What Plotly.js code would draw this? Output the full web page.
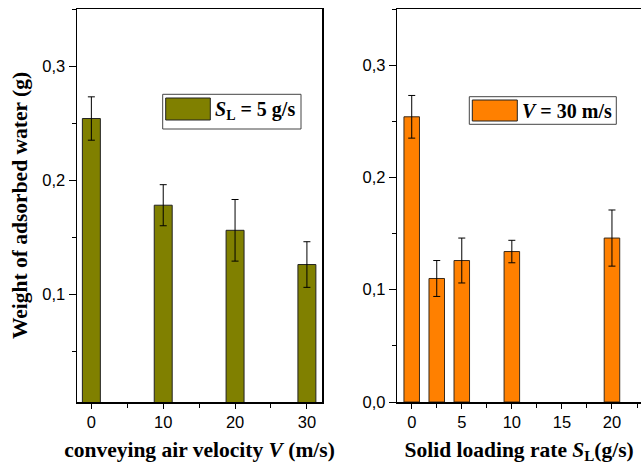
<!DOCTYPE html>
<html><head><meta charset="utf-8">
<script src="https://cdn.plot.ly/plotly-3.0.1.min.js"></script>
<style>html,body{margin:0;padding:0;background:#fff}#chart{width:641px;height:472px}</style>
</head><body><div id="chart"></div>
<script>
// Left panel: air velocity (S_L = 5 g/s)
const velocity = [0, 10, 20, 30];
const weightVel = [0.254, 0.178, 0.156, 0.126];
const errVel = [0.019, 0.018, 0.027, 0.020];
// Right panel: solid loading rate (V = 30 m/s)
const loading = [0, 2.5, 5, 10, 20];
const weightLoad = [0.254, 0.110, 0.126, 0.134, 0.146];
const errLoad = [0.019, 0.016, 0.020, 0.010, 0.025];
const leftTicks = [0, 10, 20, 30];
const rightTicks = [0, 5, 10, 15, 20];

const W = 641, H = 472;
const px = x => x / W, py = y => 1 - y / H;
const tickFont = {family: '"Liberation Sans", Arial, sans-serif', size: 16.5, color: '#000'};
const titleFont = {family: '"Liberation Serif", "Times New Roman", serif', size: 21.5, color: '#000', weight: 'bold'};
const legFont = {family: '"Liberation Serif", "Times New Roman", serif', size: 20, color: '#000'};

const traces = [
  {type: 'bar', x: velocity, y: weightVel, width: 2.5, xaxis: 'x', yaxis: 'y',
   marker: {color: '#808000', line: {color: '#222', width: 1}},
   error_y: {type: 'data', array: errVel, visible: true, color: '#000', thickness: 1, width: 3.5},
   showlegend: false},
  {type: 'bar', x: loading, y: weightLoad, width: 1.55, xaxis: 'x2', yaxis: 'y2',
   marker: {color: '#FF8000', line: {color: '#3a2a1a', width: 1}},
   error_y: {type: 'data', array: errLoad, visible: true, color: '#000', thickness: 1, width: 3.5},
   showlegend: false}
];

const axBase = {showline: true, linecolor: '#000', linewidth: 1.5, ticks: 'outside', tickcolor: '#000',
  tickwidth: 1, showgrid: false, zeroline: false, tickfont: tickFont, automargin: false};

const layout = {
  width: W, height: H, margin: {l: 0, r: 0, t: 0, b: 0},
  paper_bgcolor: '#fff', plot_bgcolor: '#fff', separators: ',.', showlegend: false,
  bargap: 0,
  xaxis: Object.assign({}, axBase, {domain: [px(77), px(322)], range: [-2, 32.1], anchor: 'y',
    tickvals: leftTicks, ticktext: leftTicks.map(String), ticklen: 5, mirror: true,
    minor: {tickvals: [5, 15, 25], ticks: 'outside', ticklen: 4, tickcolor: '#000'},
    title: {text: 'conveying air velocity <i>V</i> (m/s)', font: titleFont, standoff: 11}}),
  yaxis: Object.assign({}, axBase, {domain: [py(402), py(9)], range: [0.0055, 0.35], anchor: 'x',
    tick0: 0, dtick: 0.1, tickformat: '.1f', ticklen: 7, mirror: true,
    minor: {dtick: 0.05, tick0: 0, ticks: 'outside', ticklen: 4, tickcolor: '#000'},
    title: {text: 'Weight of adsorbed water (g)', font: titleFont, standoff: 8}}),
  xaxis2: Object.assign({}, axBase, {domain: [px(397.3), 1], range: [-1.44, 22.9], anchor: 'y2',
    tickvals: rightTicks, ticktext: rightTicks.map(String), ticklen: 5, mirror: true,
    minor: {tickvals: [2.5, 7.5, 12.5, 17.5, 22.5], ticks: 'outside', ticklen: 4, tickcolor: '#000'},
    title: {text: 'Solid loading rate <i>S</i><sub>L</sub>(g/s)', font: titleFont, standoff: 11}}),
  yaxis2: Object.assign({}, axBase, {domain: [py(402), py(9)], range: [0, 0.35], anchor: 'x2',
    tick0: 0, dtick: 0.1, tickformat: '.1f', ticklen: 7, mirror: false,
    minor: {dtick: 0.05, tick0: 0, ticks: 'outside', ticklen: 4, tickcolor: '#000'}}),
  shapes: [
    {type: 'rect', xref: 'paper', yref: 'paper', x0: px(162.7), x1: px(301), y0: py(129), y1: py(94.3),
     line: {color: '#444', width: 1}, fillcolor: '#fff'},
    {type: 'rect', xref: 'paper', yref: 'paper', x0: px(165.7), x1: px(210.3), y0: py(120), y1: py(98),
     line: {color: '#222', width: 1}, fillcolor: '#808000'},
    {type: 'rect', xref: 'paper', yref: 'paper', x0: px(469.3), x1: px(616.3), y0: py(124.3), y1: py(96.7),
     line: {color: '#444', width: 1}, fillcolor: '#fff'},
    {type: 'rect', xref: 'paper', yref: 'paper', x0: px(472.3), x1: px(517.3), y0: py(121), y1: py(100),
     line: {color: '#222', width: 1}, fillcolor: '#FF8000'}
  ],
  annotations: [
    {xref: 'paper', yref: 'paper', x: px(213), y: py(110), xanchor: 'left', yanchor: 'middle', showarrow: false,
     text: '<b><i>S</i><sub>L</sub> = 5 g/s</b>', font: legFont},
    {xref: 'paper', yref: 'paper', x: px(520), y: py(111), xanchor: 'left', yanchor: 'middle', showarrow: false,
     text: '<b><i>V</i> = 30 m/s</b>', font: legFont}
  ]
};

Plotly.newPlot('chart', traces, layout, {staticPlot: true, displayModeBar: false});
</script></body></html>
